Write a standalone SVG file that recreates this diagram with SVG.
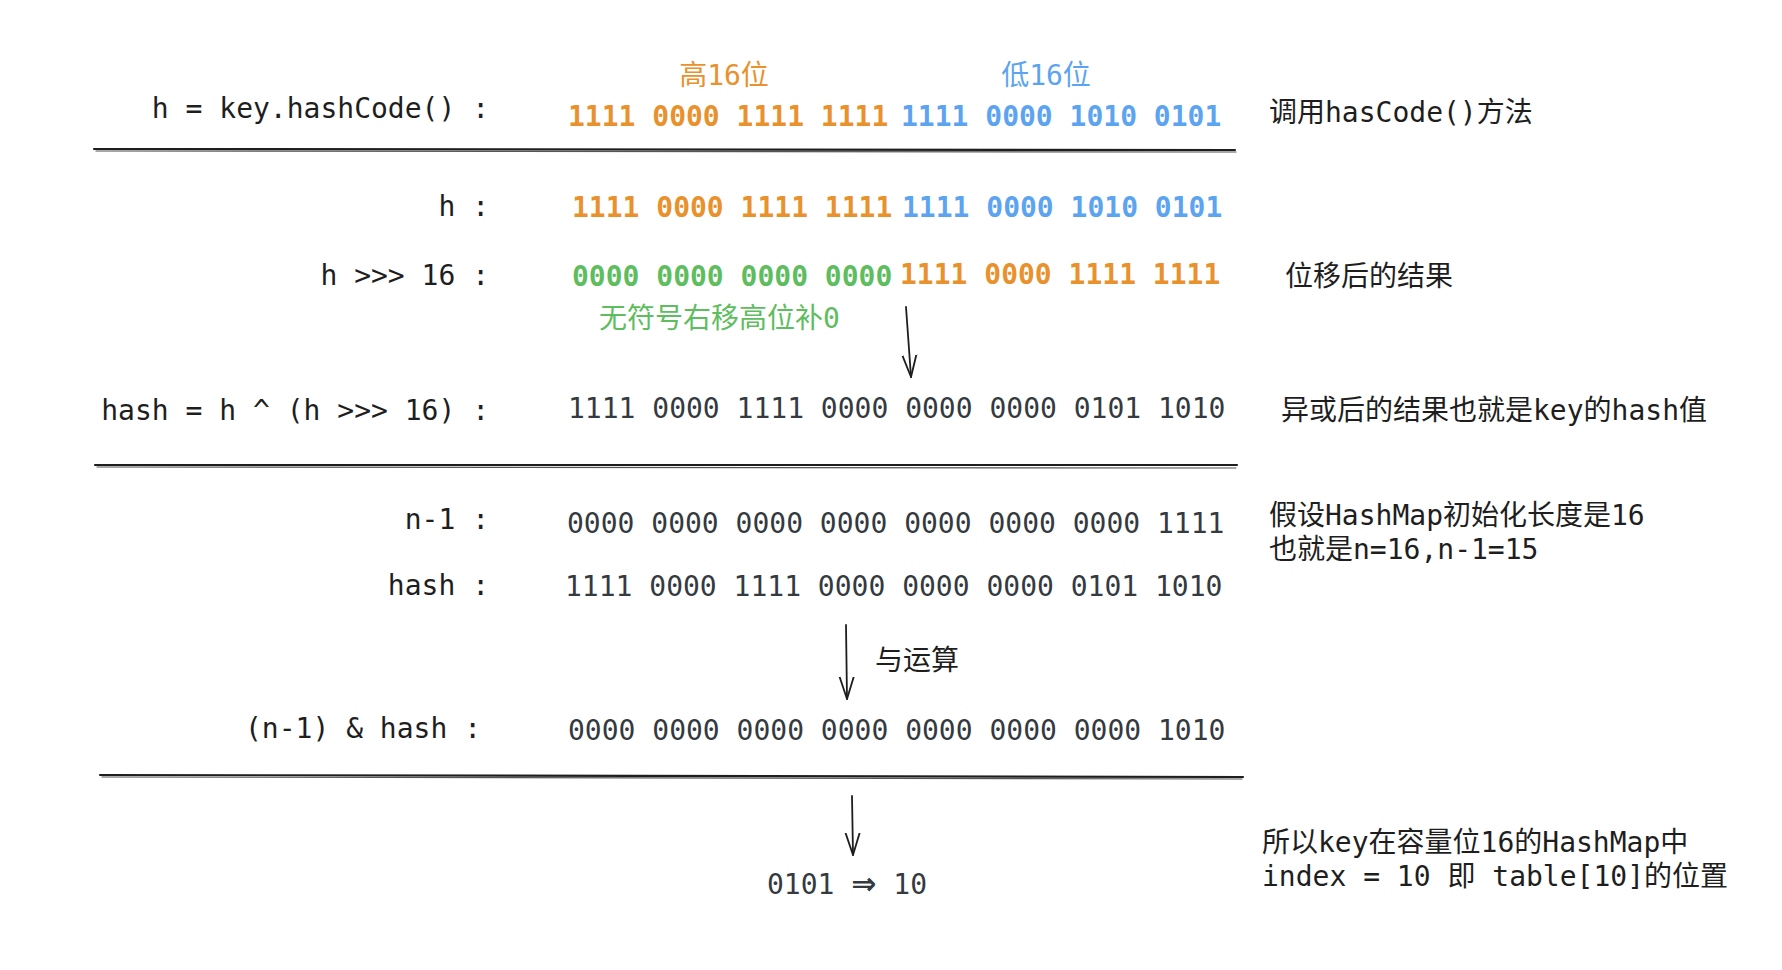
<svg xmlns="http://www.w3.org/2000/svg" width="1782" height="970" viewBox="0 0 1782 970">
<style>
text{font-family:"DejaVu Sans Mono","Noto Sans CJK SC",monospace;font-size:28px}
.lbl{fill:#1e1e1e;text-anchor:end}
.bits{fill:#343a40}
.or{fill:#e8912d;font-weight:bold}
.bl{fill:#5ca4f0;font-weight:bold}
.gr{fill:#5ebd5e;font-weight:bold}
.note{fill:#1e1e1e}
.rule{fill:none;stroke:#1e1e1e;stroke-width:2.2;stroke-linecap:round}
.rule2{fill:none;stroke:#555;stroke-width:1.2;stroke-linecap:round}
.arr{fill:none;stroke:#1e1e1e;stroke-width:1.8;stroke-linecap:round}
</style>
<defs>
<marker id="ah" markerUnits="userSpaceOnUse" markerWidth="30" markerHeight="30" refX="22" refY="15" orient="auto">
<path d="M0,8 L22,15 L0,22" fill="none" stroke="#1e1e1e" stroke-width="1.8" stroke-linecap="round" stroke-linejoin="round"/>
</marker>
</defs>
<rect width="1782" height="970" fill="#fff"/>

<g id="rules">
<path class="rule" d="M94,149 L1235,150"/>
<path class="rule2" d="M96,151 L1236,152"/>
<path class="rule" d="M95,465 L1237,465"/>
<path class="rule2" d="M97,467 L1236,468"/>
<path class="rule" d="M100,775 L1243,777"/>
<path class="rule2" d="M102,777 L1242,779"/>
</g>

<g id="row-hashcode">
<text x="724" y="85" class="or" style="font-weight:normal" text-anchor="middle">高16位</text>
<text x="1046" y="85" class="bl" style="font-weight:normal" text-anchor="middle">低16位</text>
<text x="489" y="118" class="lbl">h = key.hashCode() :</text>
<text x="568" y="126" class="or">1111 0000 1111 1111</text>
<text x="901" y="126" class="bl">1111 0000 1010 0101</text>
<text x="1269" y="122" class="note">调用hasCode()方法</text>
</g>

<g id="row-h">
<text x="489" y="216" class="lbl">h :</text>
<text x="572" y="217" class="or">1111 0000 1111 1111</text>
<text x="902" y="217" class="bl">1111 0000 1010 0101</text>
</g>

<g id="row-shift">
<text x="489" y="285" class="lbl">h &gt;&gt;&gt; 16 :</text>
<text x="572" y="286" class="gr">0000 0000 0000 0000</text>
<text x="900" y="284" class="or">1111 0000 1111 1111</text>
<text x="599" y="328" class="gr" style="font-weight:normal">无符号右移高位补0</text>
<text x="1285" y="286" class="note">位移后的结果</text>
</g>

<g id="row-xor">
<text x="489" y="420" class="lbl">hash = h ^ (h &gt;&gt;&gt; 16) :</text>
<text x="568" y="418" class="bits">1111 0000 1111 0000 0000 0000 0101 1010</text>
<text x="1281" y="420" class="note">异或后的结果也就是key的hash值</text>
</g>

<g id="row-n1">
<text x="489" y="529" class="lbl">n-1 :</text>
<text x="567" y="533" class="bits">0000 0000 0000 0000 0000 0000 0000 1111</text>
<text x="1269" y="525" class="note">假设HashMap初始化长度是16</text>
<text x="1269" y="559" class="note">也就是n=16,n-1=15</text>
</g>

<g id="row-hash">
<text x="489" y="595" class="lbl">hash :</text>
<text x="565" y="596" class="bits">1111 0000 1111 0000 0000 0000 0101 1010</text>
</g>

<g id="row-and">
<text x="875" y="670" class="note">与运算</text>
<text x="481" y="738" class="lbl">(n-1) &amp; hash :</text>
<text x="568" y="740" class="bits">0000 0000 0000 0000 0000 0000 0000 1010</text>
</g>

<g id="row-result">
<text x="767" y="894" class="bits">0101 <tspan style="font-family:'DejaVu Sans',sans-serif;font-weight:bold;font-size:30px">⇒</tspan> 10</text>
<text x="1262" y="852" class="note">所以key在容量位16的HashMap中</text>
<text x="1262" y="886" class="note">index = 10 即 table[10]的位置</text>
</g>

<g id="connectors">
<path class="arr" d="M906,307 L911,377" marker-end="url(#ah)"/>
<path class="arr" d="M846,625 L847,699" marker-end="url(#ah)"/>
<path class="arr" d="M852,796 L853,855" marker-end="url(#ah)"/>
</g>
</svg>
